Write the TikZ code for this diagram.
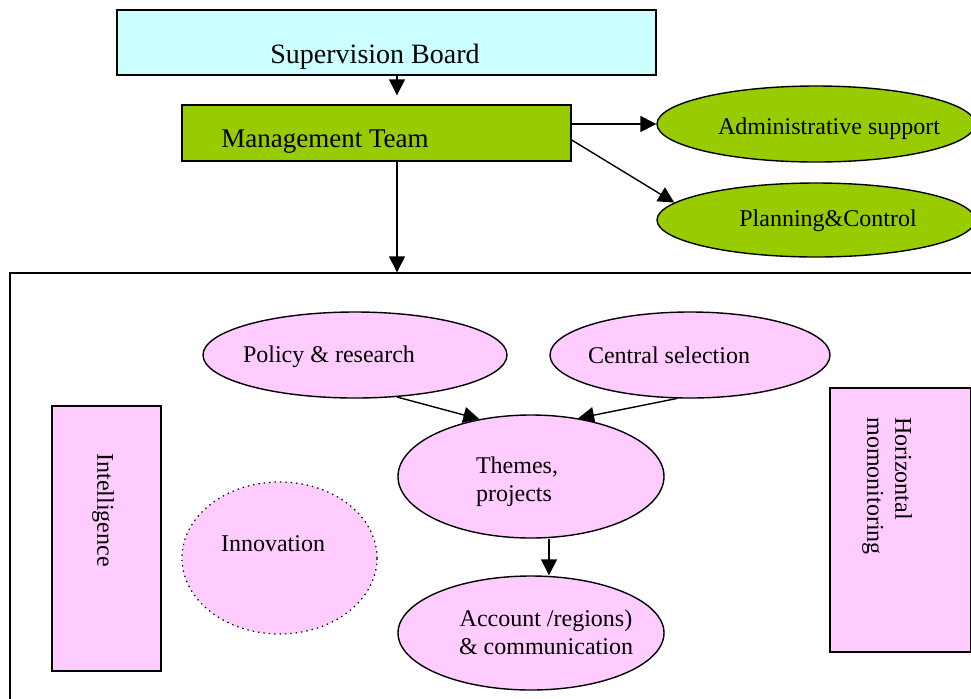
\documentclass[tikz,border=0pt]{standalone}
\usepackage{fontspec}
\setmainfont{Liberation Serif}
\usetikzlibrary{arrows.meta,shapes.geometric}
\definecolor{lysbla}{HTML}{CCFFFF}
\definecolor{gronn}{HTML}{99CC00}
\definecolor{rosa}{HTML}{FFCCFF}
\tikzset{
    %Define standard arrow tip
    >={Triangle[length=8pt,width=8pt]},
    %Define style for boxes
    boks/.style={
           rectangle,
           draw=black, line width=0.7pt,
           inner sep=0pt},
    %Define style for ellipses
    elips/.style={
           ellipse,
           draw=black, line width=0.7pt,
           inner sep=0pt,
           fill=rosa},
    tekst/.style={
           font=\fontsize{12}{14}\selectfont,
           inner sep=0pt},
    % Define arrow style
    pil/.style={
           ->,
           line width=0.7pt}
}
\begin{document}
\begin{tikzpicture}[x=0.5pt,y=-0.5pt]
\clip (0,0) rectangle (971,698);
\fill[white] (0,0) rectangle (971,698);

\node[boks, fill=lysbla, minimum width=269.5pt, minimum height=32.5pt] (board) at (386.5,42.5) {};
\node[tekst, font=\fontsize{14}{16}\selectfont] (boardtxt) at (375,57) {Supervision Board};
\node[boks, fill=gronn, minimum width=194.5pt, minimum height=28pt] (team) at (376.5,133) {};
\node[tekst, font=\fontsize{13.5}{16}\selectfont] (teamtxt) at (325,142) {Management Team};

\node[elips, fill=gronn, minimum width=159pt, minimum height=38pt] (admin) at (816,124) {};
\node[tekst] (admintxt) at (829,129) {Administrative support};
\node[elips, fill=gronn, minimum width=159pt, minimum height=37pt] (plan) at (816,220) {};
\node[tekst] (plantxt) at (828,221) {Planning\&Control};

\node[boks, fill=white, minimum width=490pt, minimum height=223.5pt] (ramme) at (500,496.5) {};

\node[elips, minimum width=152pt, minimum height=43pt] (policy) at (355,355) {};
\node[tekst] (policytxt) at (329,357) {Policy \& research};
\node[elips, minimum width=140pt, minimum height=43pt] (central) at (690,355) {};
\node[tekst] (centraltxt) at (669,355) {Central selection};
\node[elips, minimum width=133pt, minimum height=61.5pt] (themes) at (531,476.5) {};
\node[tekst, align=left] (themestxt) at (517,482) {Themes,\\projects};
\node[elips, minimum width=133pt, minimum height=57pt] (account) at (531,633) {};
\node[tekst, align=center] (accounttxt) at (546,632) {Account /regions)\\\& communication};
\node[elips, dotted, line width=0.6pt, minimum width=97.5pt, minimum height=76pt] (innov) at (279.5,558) {};
\node[tekst] (innovtxt) at (273,544) {Innovation};

\node[boks, fill=rosa, minimum width=54.5pt, minimum height=132.5pt] (intel) at (106.5,538.5) {};
\node[tekst, rotate=-90] (inteltxt) at (103,510) {Intelligence};
\node[boks, fill=rosa, minimum width=70.5pt, minimum height=132pt] (horiz) at (900.5,520) {};
\node[tekst, rotate=-90, align=left] (horiztxt) at (887,486) {Horizontal\\momonitoring};

% arrows
\draw[pil, shorten >=4.5pt] ([shift={(10.5,0)}]board.south) -- ([shift={(20.5,0)}]team.north);
\draw[pil] ([shift={(0,-9)}]team.east) -- (admin.west);
\draw[pil] ([shift={(0,7)}]team.east) -- (plan.173);
\draw[pil] ([shift={(20.5,0)}]team.south) -- ([shift={(-103,0)}]ramme.north);
\draw[pil] (policy.-45) -- (themes.132);
\draw[pil] (central.-107) -- (themes.51);
\draw[pil] ([shift={(18,0)}]themes.south) -- ([shift={(18,0)}]account.north);
\end{tikzpicture}
\end{document}
